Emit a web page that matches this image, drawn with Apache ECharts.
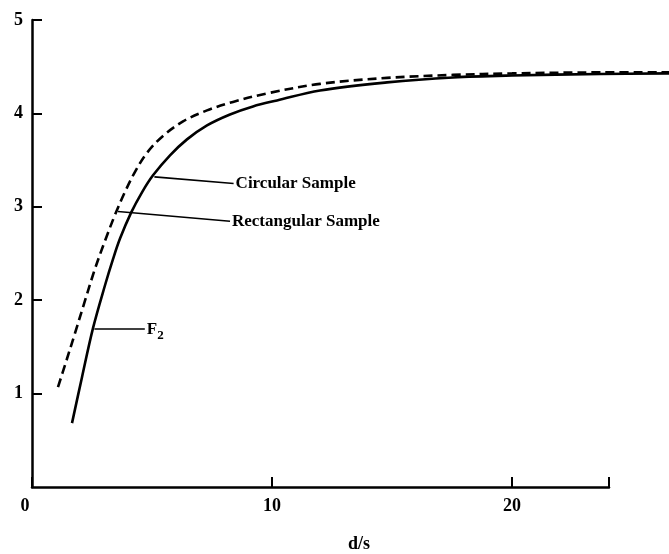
<!DOCTYPE html>
<html>
<head>
<meta charset="utf-8">
<script src="https://cdn.jsdelivr.net/npm/echarts@6/dist/echarts.min.js"></script>
<style>
html,body{margin:0;padding:0;background:#fff;}
#chart{width:669px;height:554px;}
</style>
</head>
<body>
<div id="chart"></div>
<script>
// d/s values and F2 values
const circularX = [1.667, 2.083, 2.542, 3.042, 3.375, 3.667, 4.125, 4.583, 5.042, 5.75, 6.458, 7.292, 8.25, 9.208, 10.208, 12.0, 14.79, 17.54, 20.0, 23.67, 26.54];
const circularY = [0.684, 1.176, 1.701, 2.160, 2.440, 2.660, 2.935, 3.155, 3.337, 3.551, 3.722, 3.872, 3.989, 4.075, 4.139, 4.246, 4.332, 4.385, 4.406, 4.422, 4.428];
const rectX = [1.083, 1.375, 1.792, 2.208, 2.625, 3.042, 3.458, 3.875, 4.292, 4.792, 5.458, 6.292, 7.292, 8.375, 9.792, 12.0, 14.79, 17.54, 20.0, 23.67, 26.54];
const rectY = [1.070, 1.305, 1.647, 1.995, 2.337, 2.636, 2.914, 3.160, 3.374, 3.578, 3.759, 3.914, 4.032, 4.123, 4.214, 4.316, 4.380, 4.412, 4.428, 4.439, 4.439];
const xTicks = [0, 10, 20];
const yTicks = [1, 2, 3, 4, 5];
const labels = { circular: 'Circular Sample', rect: 'Rectangular Sample', f: 'F', fsub: '2', xName: 'd/s' };

const pair = (xs, ys) => xs.map((x, i) => [x, ys[i]]);
const FONT = '"Liberation Serif", "DejaVu Serif", serif';
const ink = '#000';

const chart = echarts.init(document.getElementById('chart'), null, { renderer: 'canvas' });
chart.setOption({
  animation: false,
  backgroundColor: '#fff',
  title: {
    text: labels.xName, left: 343, top: 530,
    textStyle: { fontFamily: FONT, fontSize: 18, fontWeight: 'bold', color: ink }
  },
  grid: [
    { left: 32, top: 20, width: 577, height: 467, containLabel: false },
    { left: 32, top: 20, width: 637, height: 467, containLabel: false }
  ],
  xAxis: [
    {
      type: 'value', gridIndex: 0, min: 0, max: 24.04, interval: 10,
      axisLine: { show: true, lineStyle: { color: ink, width: 2.5 } },
      axisTick: { show: true, inside: true, length: 10, lineStyle: { color: ink, width: 2 } },
      axisLabel: {
        color: ink, fontFamily: FONT, fontSize: 18, fontWeight: 'bold', margin: 10,
        formatter: v => v === 0 ? '{z|0}' : (xTicks.includes(v) ? String(v) : ''),
        rich: { z: { fontFamily: FONT, fontSize: 18, fontWeight: 'bold', color: ink, padding: [0, 14, 0, 0] } }
      },
      splitLine: { show: false }
    },
    {
      type: 'value', gridIndex: 1, min: 0, max: 26.54, show: false
    }
  ],
  yAxis: [
    {
      type: 'value', gridIndex: 0, min: 0, max: 5, interval: 1,
      axisLine: { show: true, lineStyle: { color: ink, width: 2.5 } },
      axisTick: { show: true, inside: true, length: 10, lineStyle: { color: ink, width: 2 } },
      axisLabel: {
        color: ink, fontFamily: FONT, fontSize: 18, fontWeight: 'bold', margin: 9,
        showMinLabel: false,
        formatter: v => yTicks.includes(v) ? String(v) : ''
      },
      splitLine: { show: false }
    },
    {
      type: 'value', gridIndex: 1, min: 0, max: 5, show: false
    }
  ],
  series: [
    {
      name: labels.circular, type: 'line', xAxisIndex: 1, yAxisIndex: 1,
      smooth: 0.35, symbol: 'none',
      data: pair(circularX, circularY),
      lineStyle: { color: ink, width: 2.6 },
      markLine: {
        symbol: 'none', silent: true, animation: false,
        lineStyle: { color: ink, width: 1.6, type: 'solid' },
        label: { show: true, position: 'end', distance: 2, color: ink, fontFamily: FONT, fontSize: 17, fontWeight: 'bold',
          rich: { b: { fontFamily: FONT, fontSize: 17, fontWeight: 'bold', color: ink }, s: { fontFamily: FONT, fontSize: 13, fontWeight: 'bold', color: ink, padding: [12, 0, 0, 0] } } },
        data: [
          [{ coord: [5.1, 3.32], label: { formatter: labels.circular } }, { coord: [8.4, 3.25] }],
          [{ coord: [3.58, 2.95], label: { formatter: labels.rect } }, { coord: [8.25, 2.845] }],
          [{ coord: [2.6, 1.69], label: { formatter: '{b|' + labels.f + '}{s|' + labels.fsub + '}' } }, { coord: [4.7, 1.69] }]
        ]
      }
    },
    {
      name: labels.rect, type: 'line', xAxisIndex: 1, yAxisIndex: 1,
      smooth: 0.35, symbol: 'none',
      data: pair(rectX, rectY),
      lineStyle: { color: ink, width: 2.6, type: [9, 5] }
    }
  ]
});
</script>
</body>
</html>
